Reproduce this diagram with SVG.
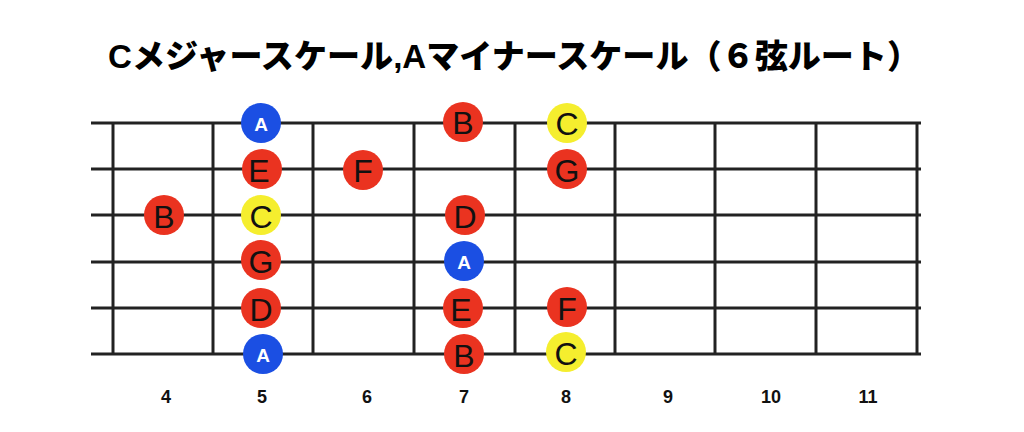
<svg xmlns="http://www.w3.org/2000/svg" width="1024" height="432" viewBox="0 0 1024 432">
<style>
.title{font-family:"Liberation Sans","Noto Sans CJK JP",sans-serif;font-weight:900;font-size:33px;fill:#000}
.str{stroke:#222;stroke-width:3}
.fret{stroke:#222;stroke-width:3}
.num{font-family:"Liberation Sans",Arial,sans-serif;font-weight:bold;font-size:18px;fill:#111;text-anchor:middle}
.red{fill:#ea3320}
.yel{fill:#f5ee2e}
.blu{fill:#1b4fe3}
.nt{font-family:"Liberation Sans",Arial,sans-serif;font-size:32px;fill:#111;text-anchor:middle;dominant-baseline:central}
.rt{font-family:"Liberation Sans",Arial,sans-serif;font-weight:bold;font-size:19px;fill:#fff;text-anchor:middle;dominant-baseline:central}
</style>
<rect width="1024" height="432" fill="#fff"/>
<text class="title" x="108" y="68" textLength="812" lengthAdjust="spacingAndGlyphs">Cメジャースケール,Aマイナースケール（６弦ルート）</text>
<g id="connectors">
<g id="strings">
<line class="str" x1="91" y1="123" x2="921" y2="123"/>
<line class="str" x1="91" y1="169" x2="921" y2="169"/>
<line class="str" x1="91" y1="215" x2="921" y2="215"/>
<line class="str" x1="91" y1="262" x2="921" y2="262"/>
<line class="str" x1="91" y1="308" x2="921" y2="308"/>
<line class="str" x1="91" y1="354" x2="921" y2="354"/>
</g>
<g id="frets">
<line class="fret" x1="113" y1="122" x2="113" y2="355"/>
<line class="fret" x1="213" y1="122" x2="213" y2="355"/>
<line class="fret" x1="313" y1="122" x2="313" y2="355"/>
<line class="fret" x1="414" y1="122" x2="414" y2="355"/>
<line class="fret" x1="515" y1="122" x2="515" y2="355"/>
<line class="fret" x1="615" y1="122" x2="615" y2="355"/>
<line class="fret" x1="715" y1="122" x2="715" y2="355"/>
<line class="fret" x1="816" y1="122" x2="816" y2="355"/>
<line class="fret" x1="917" y1="122" x2="917" y2="355"/>
</g>
</g>
<g id="fret-numbers">
<text class="num" x="166" y="403">4</text>
<text class="num" x="262" y="403">5</text>
<text class="num" x="367" y="403">6</text>
<text class="num" x="464" y="403">7</text>
<text class="num" x="566" y="403">8</text>
<text class="num" x="668" y="403">9</text>
<text class="num" x="771" y="403">10</text>
<text class="num" x="868" y="403">11</text>
</g>
<g id="n-s1-f5"><circle class="blu" cx="261" cy="123" r="20"/><text class="rt" x="261" y="124">A</text></g>
<g id="n-s1-f7"><circle class="red" cx="463" cy="122" r="20"/><text class="nt" x="463" y="123">B</text></g>
<g id="n-s1-f8"><circle class="yel" cx="567" cy="123" r="20"/><text class="nt" x="567" y="124">C</text></g>
<g id="n-s2-f5"><circle class="red" cx="262" cy="169" r="20"/><text class="nt" x="259" y="171">E</text></g>
<g id="n-s2-f6"><circle class="red" cx="363" cy="170" r="20"/><text class="nt" x="363" y="171">F</text></g>
<g id="n-s2-f8"><circle class="red" cx="567" cy="169" r="20"/><text class="nt" x="567" y="171">G</text></g>
<g id="n-s3-f4"><circle class="red" cx="164" cy="215" r="20"/><text class="nt" x="164" y="217">B</text></g>
<g id="n-s3-f5"><circle class="yel" cx="261" cy="215" r="20"/><text class="nt" x="261" y="217">C</text></g>
<g id="n-s3-f7"><circle class="red" cx="465" cy="215" r="20"/><text class="nt" x="465" y="217">D</text></g>
<g id="n-s4-f5"><circle class="red" cx="261" cy="260" r="20"/><text class="nt" x="261" y="262">G</text></g>
<g id="n-s4-f7"><circle class="blu" cx="464" cy="261" r="20"/><text class="rt" x="464" y="262">A</text></g>
<g id="n-s5-f5"><circle class="red" cx="261" cy="308" r="20"/><text class="nt" x="261" y="310">D</text></g>
<g id="n-s5-f7"><circle class="red" cx="463" cy="308" r="20"/><text class="nt" x="461" y="310">E</text></g>
<g id="n-s5-f8"><circle class="red" cx="567" cy="307" r="20"/><text class="nt" x="567" y="309">F</text></g>
<g id="n-s6-f5"><circle class="blu" cx="263" cy="354" r="20"/><text class="rt" x="263" y="355">A</text></g>
<g id="n-s6-f7"><circle class="red" cx="464" cy="354" r="20"/><text class="nt" x="464" y="356">B</text></g>
<g id="n-s6-f8"><circle class="yel" cx="566" cy="352" r="20"/><text class="nt" x="566" y="354">C</text></g>
</svg>
